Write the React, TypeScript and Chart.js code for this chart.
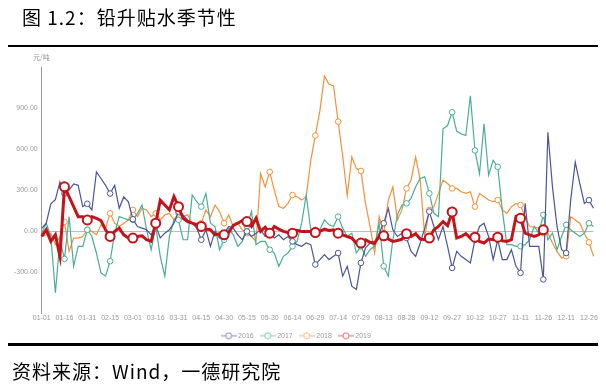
import React, { useEffect, useRef } from 'react';
import { Chart, registerables } from 'chart.js';

Chart.register(...registerables);

// x-axis tick labels (every 15 days), categories are every 3 days
const tickLabels = ['01-01','01-16','01-31','02-15','03-01','03-16','03-31','04-15','04-30','05-15','05-30','06-14','06-29','07-14','07-29','08-13','08-28','09-12','09-27','10-12','10-27','11-11','11-26','12-11','12-26'];
const categories: string[] = Array.from({ length: 122 }, (_, i) => {
  const d = new Date(2016, 0, 1 + 3 * i);
  return String(d.getMonth() + 1).padStart(2, '0') + '-' + String(d.getDate()).padStart(2, '0');
});

const yTickValues = [-300, 0, 300, 600, 900];
const seriesNames = ['2016', '2017', '2018', '2019'];

const s2016 = [20,58,200,230,360,275,300,345,335,180,200,155,433,385,335,275,335,167,250,215,87,34,22,10,-27,41,-50,-15,10,58,143,118,82,58,22,-63,10,-111,-2,-50,-15,34,22,-27,-63,-2,-39,-15,10,-39,-15,-50,-27,-63,-39,-75,-99,-111,-87,-99,-244,-208,-172,-208,-184,-160,-329,-257,-402,-426,-232,-123,-87,-99,-15,58,167,10,-39,-15,-50,-148,-184,-87,22,143,34,-63,34,-111,-269,-148,-184,-208,-232,-63,34,58,-39,-208,-63,-208,-208,-136,-257,-305,203,-111,-111,-111,-353,723,324,34,-136,-160,227,505,348,203,227,167];
const s2017 = [-15,58,-39,-450,-63,-203,106,-257,-111,-111,10,-39,-160,-305,-329,-220,-15,106,94,82,82,130,191,10,-136,34,-184,-329,-39,82,82,-63,-63,264,215,179,276,58,34,-136,-63,22,-27,-111,-75,34,143,-99,-75,-75,-136,-160,-257,-184,-160,-111,-75,58,264,10,10,10,82,46,34,106,22,-39,-15,-160,-111,-184,-136,-111,58,-257,-329,-63,119,191,203,240,324,385,397,276,130,106,748,772,869,731,711,699,990,590,421,784,409,518,470,155,-99,-99,-111,-111,-99,-63,34,-15,119,-63,-15,-136,-39,46,10,-15,-39,-15,58,34];
const s2018 = [-39,-27,-15,-99,-39,68,-148,-51,-51,-39,10,-2,-27,46,22,130,58,34,58,82,155,106,167,155,106,130,82,119,130,82,130,106,119,58,58,58,155,106,191,143,58,119,34,58,10,-15,-39,-75,421,324,433,300,179,167,203,264,252,227,252,518,699,881,1135,1074,1062,800,550,260,542,457,440,203,34,-158,106,-15,227,324,82,155,312,373,542,373,-39,155,179,276,373,348,312,312,288,276,288,179,276,252,227,215,227,155,130,179,203,191,100,34,29,22,-15,-15,-87,-148,-196,-184,106,82,58,-15,-82,-184];
const s2019 = [-39,10,-75,-27,-184,324,252,179,106,106,82,106,94,77,10,-39,-2,22,-27,-51,-51,-39,-34,-63,-75,58,227,191,155,252,179,94,70,58,46,34,15,10,-27,-19,-27,-10,41,58,77,70,34,94,-2,29,-15,34,15,-2,-10,-15,5,-2,-2,-2,-10,-2,15,5,10,-15,-27,-39,-51,-87,-87,-63,-82,-87,-39,-34,-58,-75,-68,-58,-19,-39,-19,-58,-63,-51,10,34,70,40,140,-51,-39,-19,-51,-44,-75,-87,-58,-63,-44,-70,-75,-63,105,95,-15,-27,-39,-27,10];

const lineColors = ['#4b5597', '#4aae96', '#f7903c', '#c3141b'];
const legendColors = ['#7f86c4', '#7fcab6', '#fbb27a', '#e06a6a'];

function makeIcon(color: string) {
  const c = document.createElement('canvas');
  c.width = 16; c.height = 8;
  const ctx = c.getContext('2d')!;
  ctx.strokeStyle = color;
  ctx.lineWidth = 1;
  ctx.beginPath(); ctx.moveTo(0, 4); ctx.lineTo(16, 4); ctx.stroke();
  ctx.fillStyle = '#fff';
  ctx.beginPath(); ctx.arc(8, 4, 3, 0, Math.PI * 2); ctx.fill(); ctx.stroke();
  return c;
}

export default function App() {
  const ref = useRef<HTMLCanvasElement>(null);
  useEffect(() => {
    const icons = legendColors.map(makeIcon);
    const all = [s2016, s2017, s2018, s2019];
    const datasets = all.map((d, k) => {
      const big = k === 3;
      return {
        label: seriesNames[k],
        data: d,
        borderColor: lineColors[k],
        backgroundColor: lineColors[k],
        borderWidth: big ? 3 : 1.2,
        tension: 0,
        pointBackgroundColor: '#fff',
        pointBorderColor: lineColors[k],
        pointBorderWidth: big ? 2 : 1,
        pointRadius: (c: any) => (c.dataIndex > 0 && c.dataIndex % 5 === 0 ? (big ? 4.5 : 2.8) : 0),
        order: big ? 0 : k + 1,
      };
    });
    const chart = new Chart(ref.current!, {
      type: 'line',
      data: { labels: categories, datasets },
      options: {
        animation: false,
        responsive: false,
        layout: { padding: { left: 0, right: 12.5, top: 67, bottom: 38.8 } },
        plugins: {
          tooltip: { enabled: false },
          legend: {
            position: 'bottom',
            labels: {
              usePointStyle: true,
              pointStyleWidth: 12,
              padding: 8,
              color: '#999',
              font: { family: 'Liberation Sans', size: 7 },
              generateLabels: () => seriesNames.map((n, k) => ({
                text: n,
                datasetIndex: k,
                fillStyle: legendColors[k],
                strokeStyle: legendColors[k],
                lineWidth: 0,
                hidden: false,
                pointStyle: icons[k],
                fontColor: '#999',
              })),
            },
          },
        },
        scales: {
          x: {
            afterFit: (s: any) => { s.height = 11; },
            grid: { display: false, drawTicks: false },
            border: { display: false },
            ticks: {
              autoSkip: false,
              maxRotation: 0,
              padding: 1,
              color: '#999',
              font: { family: 'Liberation Sans', size: 7 },
              callback: (_v: any, i: number) => (i % 5 === 0 ? tickLabels[i / 5] : ''),
            },
          },
          y: {
            min: -600,
            max: 1200,
            afterFit: (s: any) => { s.width = 41.7; },
            grid: {
              drawTicks: false,
              color: (c: any) => (c.tick && c.tick.value === 0 ? '#bdbdbd' : 'rgba(0,0,0,0)'),
            },
            border: { display: true, color: '#999', width: 1 },
            ticks: {
              stepSize: 300,
              padding: 4,
              color: '#999',
              font: { family: 'Liberation Sans', size: 7 },
              callback: (v: any) => (yTickValues.includes(Number(v)) ? Number(v).toFixed(2) : ''),
            },
          },
        },
      },
    });
    return () => chart.destroy();
  }, []);

  const cjk = "'Noto Sans CJK SC', 'Noto Sans', sans-serif";
  return (
    <div style={{ position: 'absolute', left: 0, top: 0, width: 606, height: 388, background: '#fff' }}>
      <canvas ref={ref} width={606} height={388} style={{ position: 'absolute', left: 0, top: 0 }} />
      <div style={{ position: 'absolute', left: 22, top: 4, fontFamily: cjk, fontSize: 19, lineHeight: '26px', letterSpacing: 1, color: '#000', whiteSpace: 'nowrap' }}>图 1.2：铅升贴水季节性</div>
      <div style={{ position: 'absolute', left: 8, top: 45, width: 590, height: 2, background: '#000' }} />
      <div style={{ position: 'absolute', left: 33, top: 53, fontFamily: cjk, fontSize: 7, lineHeight: '9px', color: '#999' }}>元/吨</div>
      <div style={{ position: 'absolute', left: 8, top: 343, width: 590, height: 3, background: '#000' }} />
      <div style={{ position: 'absolute', left: 12, top: 358, fontFamily: cjk, fontSize: 19, lineHeight: '26px', letterSpacing: 1, color: '#000', whiteSpace: 'nowrap' }}>资料来源：Wind，一德研究院</div>
    </div>
  );
}
